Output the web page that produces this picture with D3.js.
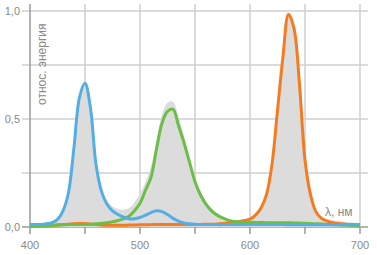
<!DOCTYPE html>
<html>
<head>
<meta charset="utf-8">
<script src="https://cdn.jsdelivr.net/npm/d3@7"></script>
<style>
  body { margin: 0; background: #fff; }
  text { font-family: "Liberation Sans", Arial, sans-serif; fill: #8a8a8a; }
</style>
</head>
<body>
<script>
// longitudes de onda cada 5 nm, de 400 a 700
var longitudes = d3.range(400, 701, 5);

var azul = [0.012, 0.012, 0.012, 0.015, 0.02, 0.035, 0.075, 0.16, 0.37, 0.6,
  0.665, 0.55, 0.29, 0.165, 0.105, 0.075, 0.058, 0.046, 0.038, 0.038,
  0.044, 0.055, 0.067, 0.075, 0.071, 0.058, 0.04, 0.027, 0.019, 0.015,
  0.013, 0.012, 0.012, 0.012, 0.011, 0.011, 0.011, 0.011, 0.011, 0.011,
  0.011, 0.011, 0.011, 0.011, 0.011, 0.011, 0.011, 0.01, 0.01, 0.01,
  0.01, 0.01, 0.01, 0.01, 0.01, 0.01, 0.01, 0.01, 0.01, 0.01, 0.01];

var verde = [0.005, 0.005, 0.006, 0.007, 0.008, 0.009, 0.01, 0.011, 0.012, 0.012,
  0.012, 0.013, 0.015, 0.017, 0.02, 0.024, 0.03, 0.038, 0.05, 0.075,
  0.11, 0.17, 0.23, 0.36, 0.48, 0.535, 0.545, 0.47, 0.39, 0.3,
  0.21, 0.148, 0.105, 0.075, 0.055, 0.042, 0.032, 0.026, 0.023, 0.022,
  0.022, 0.021, 0.021, 0.02, 0.02, 0.02, 0.02, 0.02, 0.019, 0.018,
  0.017, 0.016, 0.015, 0.014, 0.012, 0.011, 0.01, 0.009, 0.008, 0.007, 0.006];

var naranja = [0.002, 0.003, 0.004, 0.005, 0.007, 0.009, 0.011, 0.013, 0.015, 0.016,
  0.016, 0.014, 0.011, 0.009, 0.008, 0.008, 0.008, 0.008, 0.009, 0.009,
  0.01, 0.01, 0.011, 0.012, 0.012, 0.012, 0.012, 0.012, 0.012, 0.012,
  0.012, 0.012, 0.013, 0.013, 0.014, 0.016, 0.019, 0.022, 0.026, 0.03,
  0.036, 0.055, 0.088, 0.15, 0.29, 0.54, 0.79, 0.985, 0.92, 0.66,
  0.31, 0.15, 0.07, 0.04, 0.027, 0.02, 0.016, 0.014, 0.012, 0.011, 0.01];

// espectro total (zona gris)
var total = [0.012, 0.013, 0.015, 0.018, 0.025, 0.04, 0.08, 0.165, 0.37, 0.6,
  0.665, 0.55, 0.29, 0.17, 0.12, 0.095, 0.083, 0.08, 0.088, 0.115,
  0.155, 0.21, 0.28, 0.4, 0.52, 0.575, 0.58, 0.51, 0.42, 0.32,
  0.23, 0.165, 0.12, 0.088, 0.065, 0.05, 0.038, 0.032, 0.03, 0.034,
  0.045, 0.062, 0.095, 0.16, 0.3, 0.545, 0.79, 0.985, 0.92, 0.66,
  0.32, 0.16, 0.08, 0.05, 0.038, 0.032, 0.028, 0.025, 0.022, 0.02, 0.018];

var ticksX = [400, 450, 500, 550, 600, 650, 700];
var etiquetasX = [400, 500, 600, 700];
var ticksY = [0, 0.25, 0.5, 0.75, 1];
var etiquetasY = [0, 0.5, 1];

var width = 377;
var height = 255;

var escalaX = d3.scaleLinear().domain([400, 700]).range([30, 360]);
var escalaY = d3.scaleLinear().domain([0, 1]).range([227, 11]);

var svg = d3.select("body").append("svg")
  .attr("width", width)
  .attr("height", height);

// rejilla horizontal
svg.append("g").selectAll("line")
  .data(ticksY)
  .join("line")
  .attr("x1", 22)
  .attr("x2", 368)
  .attr("y1", d => escalaY(d))
  .attr("y2", d => escalaY(d))
  .attr("stroke", d => d == 0 ? "#9a9a9a" : "#cfcfcf")
  .attr("stroke-width", 1.5);

// rejilla vertical
svg.append("g").selectAll("line")
  .data(ticksX)
  .join("line")
  .attr("x1", d => escalaX(d))
  .attr("x2", d => escalaX(d))
  .attr("y1", 4)
  .attr("y2", 227)
  .attr("stroke", d => d == 400 ? "#9a9a9a" : "#cfcfcf")
  .attr("stroke-width", 1.5);

// marcas del eje X bajo la base
svg.append("g").selectAll("line")
  .data(ticksX)
  .join("line")
  .attr("x1", d => escalaX(d))
  .attr("x2", d => escalaX(d))
  .attr("y1", 227)
  .attr("y2", 234)
  .attr("stroke", "#9a9a9a")
  .attr("stroke-width", 1.5);

var datos = longitudes.map(function (l, i) {
  return { l: l, azul: azul[i], verde: verde[i], naranja: naranja[i], total: total[i] };
});

var area = d3.area()
  .x(d => escalaX(d.l))
  .y0(escalaY(0))
  .y1(d => escalaY(d.total))
  .curve(d3.curveCatmullRom);

svg.append("path")
  .datum(datos)
  .attr("d", area)
  .attr("fill", "#dcdcdc");

var series = [
  { clave: "naranja", color: "#f47b20" },
  { clave: "verde", color: "#6bbf47" },
  { clave: "azul", color: "#52aee3" }
];

series.forEach(function (s) {
  var linea = d3.line()
    .x(d => escalaX(d.l))
    .y(d => escalaY(d[s.clave]))
    .curve(d3.curveCatmullRom);
  svg.append("path")
    .datum(datos)
    .attr("d", linea)
    .attr("fill", "none")
    .attr("stroke", s.color)
    .attr("stroke-width", 3)
    .attr("stroke-linejoin", "round");
});

// etiquetas de los ejes
svg.append("g").selectAll("text")
  .data(etiquetasX)
  .join("text")
  .attr("x", d => escalaX(d))
  .attr("y", 249)
  .attr("text-anchor", "middle")
  .style("font-size", "11px")
  .text(d => d);

svg.append("g").selectAll("text")
  .data(etiquetasY)
  .join("text")
  .attr("x", 20)
  .attr("y", d => escalaY(d) + 4)
  .attr("text-anchor", "end")
  .style("font-size", "11px")
  .text(d => d3.format(".1f")(d).replace(".", ","));

svg.append("text")
  .attr("transform", "translate(46,105) rotate(-90)")
  .style("font-size", "12px")
  .text("относ. энергия");

svg.append("text")
  .attr("x", 325)
  .attr("y", 216)
  .style("font-size", "12px")
  .text("λ, нм");
</script>
</body>
</html>
